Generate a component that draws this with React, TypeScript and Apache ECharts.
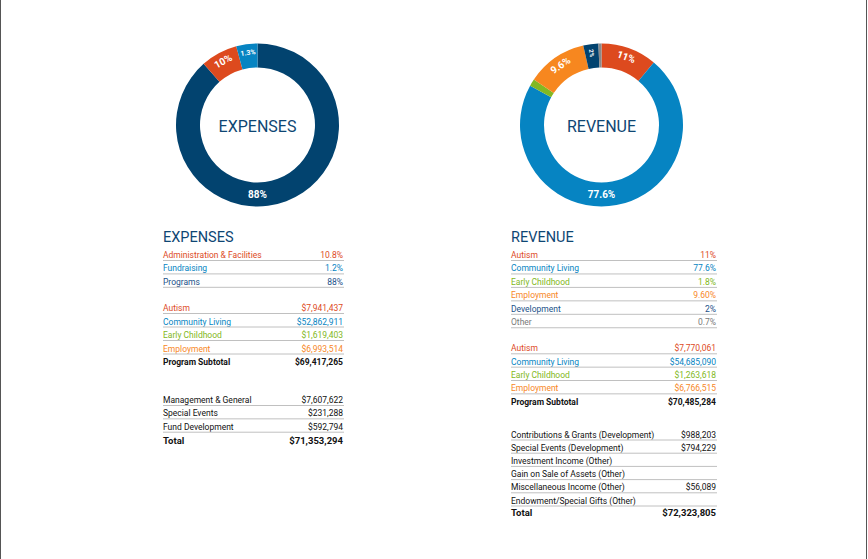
import React, { useEffect, useRef } from "react";
import * as echarts from "echarts";

// ---------- Data ----------
// Expenses donut (clockwise from 12 o'clock)
const expensePieNames = ["Programs", "Administration & Facilities", "Fundraising"];
const expensePieValues = [88.5, 7.3, 4.2];
const expensePieLabels = ["88%", "10%", "1.3%"];

// Revenue donut (clockwise from 12 o'clock)
const revenuePieNames = ["Autism", "Community Living", "Early Childhood", "Employment", "Development", "Other"];
const revenuePieValues = [11.1, 72, 1.4, 12, 3, 0.6];
const revenuePieLabels = ["11%", "77.6%", "", "9.6%", "2%", ""];

// Expenses table
const expenseCategories = ["Administration & Facilities", "Fundraising", "Programs"];
const expensePercents = ["10.8%", "1.2%", "88%"];
const programNames = ["Autism", "Community Living", "Early Childhood", "Employment"];
const expenseProgramAmounts = ["$7,941,437", "$52,862,911", "$1,619,403", "$6,993,514"];
const expenseSubtotal = "$69,417,265";
const expenseOtherNames = ["Management & General", "Special Events", "Fund Development"];
const expenseOtherAmounts = ["$7,607,622", "$231,288", "$592,794"];
const expenseTotal = "$71,353,294";

// Revenue table
const revenueCategories = ["Autism", "Community Living", "Early Childhood", "Employment", "Development", "Other"];
const revenuePercents = ["11%", "77.6%", "1.8%", "9.60%", "2%", "0.7%"];
const revenueProgramAmounts = ["$7,770,061", "$54,685,090", "$1,263,618", "$6,766,515"];
const revenueSubtotal = "$70,485,284";
const revenueOtherNames = [
  "Contributions & Grants (Development)",
  "Special Events (Development)",
  "Investment Income (Other)",
  "Gain on Sale of Assets (Other)",
  "Miscellaneous Income (Other)",
  "Endowment/Special Gifts (Other)",
];
const revenueOtherAmounts = ["$988,203", "$794,229", "", "", "$56,089", ""];
const revenueTotal = "$72,323,805";

// ---------- Styles ----------
const C = {
  navy: "#02436f",
  red: "#dd4a1e",
  blue: "#0684c2",
  green: "#82b822",
  orange: "#f7871f",
  gray: "#8a8a8a",
  textNavy: "#1a5189",
  title: "#0e4673",
  textGray: "#7a7a7a",
  black: "#111111",
  rule: "#c0c0c0",
};
const colorOf: Record<string, string> = {
  Programs: C.navy,
  "Administration & Facilities": C.red,
  Fundraising: C.blue,
  Autism: C.red,
  "Community Living": C.blue,
  "Early Childhood": C.green,
  Employment: C.orange,
  Development: C.navy,
  Other: C.gray,
};
const textColorOf: Record<string, string> = {
  ...colorOf,
  Programs: C.textNavy,
  Development: C.textNavy,
  Other: C.textGray,
};

const FONT = "Roboto, 'Noto Sans', sans-serif";
const ROW_FS = 8.5;

export default function App() {
  const ref = useRef<HTMLDivElement>(null);

  useEffect(() => {
    document.body.style.margin = "0";
    const chart = echarts.init(ref.current!, undefined, { renderer: "svg" });

    const L = { cx: 257.5, cy: 125 };
    const R = { cx: 601.5, cy: 125 };
    const rIn = 57.5;
    const rOut = 81.5;
    const rMid = (rIn + rOut) / 2;

    const g: any[] = [];

    const addRow = (
      x1: number,
      x2: number,
      y: number,
      name: string,
      value: string,
      color: string,
      opts: { bold?: boolean; size?: number; rule?: boolean } = {}
    ) => {
      const fs = opts.size ?? ROW_FS;
      const fw = opts.bold ? "bold" : "normal";
      g.push({
        type: "text",
        x: x1,
        y,
        style: { text: name, fill: color, font: `${fw} ${fs}px ${FONT}`, align: "left", verticalAlign: "middle" },
      });
      if (value)
        g.push({
          type: "text",
          x: x2,
          y,
          style: { text: value, fill: color, font: `${fw} ${fs}px ${FONT}`, align: "right", verticalAlign: "middle" },
        });
      if (opts.rule !== false)
        g.push({
          type: "line",
          shape: { x1, y1: y + 5.5, x2: x2 + 1, y2: y + 5.5 },
          style: { stroke: C.rule, lineWidth: 1 },
        });
    };

    // ---- Expenses table ----
    const lx1 = 163, lx2 = 343;
    g.push({
      type: "text",
      x: lx1,
      y: 237.5,
      style: { text: "EXPENSES", fill: C.title, font: `normal 14.5px ${FONT}`, align: "left", verticalAlign: "middle" },
    });
    expenseCategories.forEach((n, i) =>
      addRow(lx1, lx2, 255 + i * 13.4, n, expensePercents[i], textColorOf[n])
    );
    programNames.forEach((n, i) =>
      addRow(lx1, lx2, 308 + i * 13.5, n, expenseProgramAmounts[i], textColorOf[n])
    );
    addRow(lx1, lx2, 362, "Program Subtotal", expenseSubtotal, C.black, { bold: true, rule: false });
    expenseOtherNames.forEach((n, i) =>
      addRow(lx1, lx2, 400 + i * 13.35, n, expenseOtherAmounts[i], C.black)
    );
    addRow(lx1, lx2, 440, "Total", expenseTotal, C.black, { bold: true, size: 9.5, rule: false });

    // ---- Revenue table ----
    const rx1 = 511, rx2 = 716;
    g.push({
      type: "text",
      x: rx1,
      y: 237.5,
      style: { text: "REVENUE", fill: C.title, font: `normal 14.5px ${FONT}`, align: "left", verticalAlign: "middle" },
    });
    revenueCategories.forEach((n, i) =>
      addRow(rx1, rx2, 255 + i * 13.45, n, revenuePercents[i], textColorOf[n])
    );
    programNames.forEach((n, i) =>
      addRow(rx1, rx2, 348.3 + i * 13.35, n, revenueProgramAmounts[i], textColorOf[n])
    );
    addRow(rx1, rx2, 402, "Program Subtotal", revenueSubtotal, C.black, { bold: true, rule: false });
    revenueOtherNames.forEach((n, i) =>
      addRow(rx1, rx2, 434.5 + i * 13.2, n, revenueOtherAmounts[i], C.black)
    );
    addRow(rx1, rx2, 512.5, "Total", revenueTotal, C.black, { bold: true, size: 9.5, rule: false });

    // ---- Donut centre titles ----
    g.push({
      type: "text",
      x: L.cx,
      y: L.cy + 1,
      style: { text: "EXPENSES", fill: C.title, font: `16px ${FONT}`, align: "center", verticalAlign: "middle" },
    });
    g.push({
      type: "text",
      x: R.cx,
      y: R.cy + 1,
      style: { text: "REVENUE", fill: C.title, font: `16px ${FONT}`, align: "center", verticalAlign: "middle" },
    });

    // ---- Page border ----
    g.push({ type: "line", shape: { x1: 0.5, y1: 0, x2: 0.5, y2: 559 }, style: { stroke: "#555", lineWidth: 1 } });
    g.push({ type: "line", shape: { x1: 866.5, y1: 0, x2: 866.5, y2: 559 }, style: { stroke: "#555", lineWidth: 1 } });

    const labelBase = {
      show: true,
      position: "inside",
      color: "#fff",
      fontFamily: FONT,
      fontWeight: "bold",
      fontSize: 10,
      rotate: "tangential",
    };

    const makeData = (names: string[], values: number[], labels: string[], small: Record<number, any>) =>
      names.map((n, i) => ({
        name: n,
        value: values[i],
        itemStyle: { color: colorOf[n] },
        label: labels[i]
          ? { ...labelBase, formatter: labels[i], ...(small[i] || {}) }
          : { show: false },
      }));

    const bigIndex = (vals: number[]) => vals.indexOf(Math.max(...vals));
    const expBig = bigIndex(expensePieValues);
    const revBig = bigIndex(revenuePieValues);

    chart.setOption({
      animation: false,
      graphic: { elements: g },
      series: [
        {
          type: "pie",
          center: [L.cx, L.cy],
          radius: [rIn, rOut],
          startAngle: 90,
          clockwise: true,
          silent: true,
          labelLine: { show: false },
          data: makeData(expensePieNames, expensePieValues, expensePieLabels, {
            2: { fontSize: 7 },
          }),
          labelLayout: (p: any) =>
            p.dataIndex === expBig ? { x: L.cx, y: L.cy + rMid, rotate: 0 } : {},
        },
        {
          type: "pie",
          center: [R.cx, R.cy],
          radius: [rIn, rOut],
          startAngle: 90,
          clockwise: true,
          silent: true,
          labelLine: { show: false },
          data: makeData(revenuePieNames, revenuePieValues, revenuePieLabels, {
            4: { fontSize: 6, rotate: "radial" },
          }),
          labelLayout: (p: any) =>
            p.dataIndex === revBig ? { x: R.cx, y: R.cy + rMid, rotate: 0 } : {},
        },
      ],
    });

    return () => chart.dispose();
  }, []);

  return <div ref={ref} style={{ width: 868, height: 559 }} />;
}
